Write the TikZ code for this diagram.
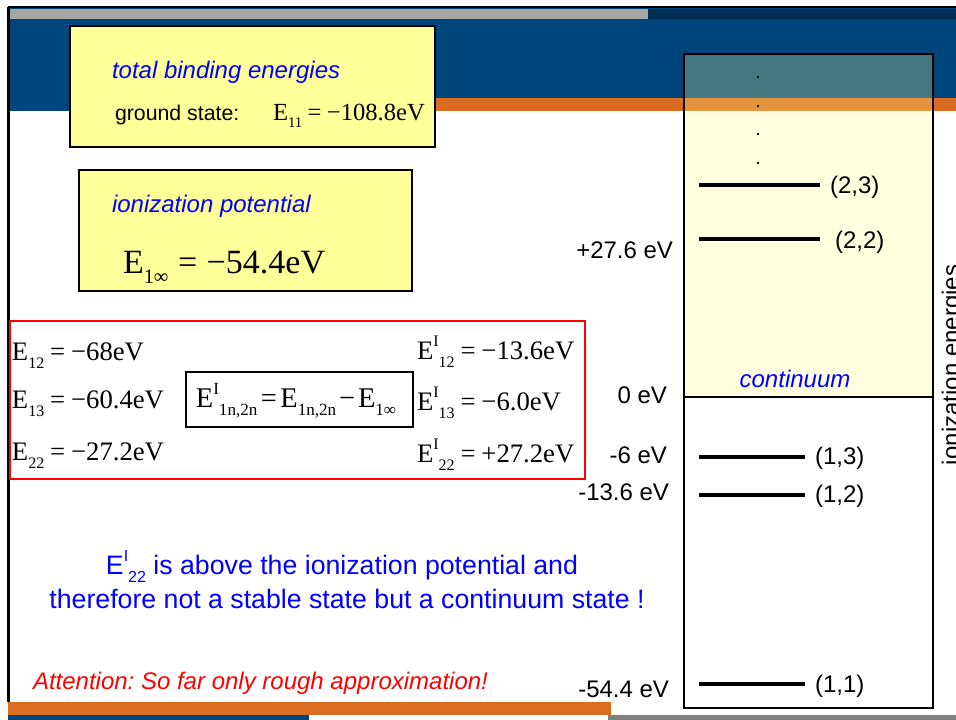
\documentclass[tikz,border=0pt]{standalone}
\usepackage{fontspec}
\setmainfont{Liberation Serif}
\setsansfont{Liberation Sans}
\usepackage{graphicx}
\definecolor{hdrblue}{RGB}{0,69,124}
\definecolor{hdrdark}{RGB}{0,45,86}
\definecolor{hdrgray}{RGB}{166,166,166}
\definecolor{orng}{RGB}{219,109,35}
\definecolor{bgray}{RGB}{128,128,128}
\definecolor{boxyel}{RGB}{255,255,153}
\definecolor{contyel}{RGB}{255,255,140}
\definecolor{txtblue}{RGB}{0,0,255}
\definecolor{txtred}{RGB}{255,0,0}
\newcommand\lo[1]{\raisebox{-0.3em}{\scalebox{0.6}{#1}}}
\newcommand\hi[1]{\raisebox{0.45em}{\scalebox{0.6}{#1}}}
\newcommand\eqs{\kern0.22em=\kern0.22em}
\frenchspacing
\tikzset{
  txt/.style={inner sep=0pt, outer sep=0pt},
  ybox/.style={draw=black, line width=2.5pt, fill=boxyel, inner sep=0pt},
  sanslab/.style={txt, font=\sffamily\fontsize{24}{28}\selectfont},
  serif24/.style={txt, font=\rmfamily\fontsize{24.6}{28}\selectfont},
  serif27/.style={txt, font=\rmfamily\fontsize{26.7}{30}\selectfont},
  bluehead/.style={txt, font=\sffamily\itshape\fontsize{24}{28}\selectfont, text=txtblue},
  lvline/.style={line width=3.4pt},
}
\begin{document}
\begin{tikzpicture}[x=1pt,y=-1pt]
\useasboundingbox (0,0) rectangle (956,720);
\fill[white] (0,0) rectangle (956,720);
% header bands
\fill[hdrblue] (8,8) rectangle (956,111);
\fill[hdrgray] (10,9) rectangle (648,19);
\fill[hdrdark] (648,9) rectangle (956,19);
\fill[orng] (300,98) rectangle (956,111);
\draw[line width=2pt] (8,7) -- (956,7);
\draw[line width=2.5pt] (8.5,7) -- (8.5,702);
% footer bands
\fill[orng] (8,702) rectangle (611,715);
\fill[hdrblue] (8,715) rectangle (309,720);
\fill[bgray] (608,715) rectangle (956,720);

% box 1
\node[ybox, minimum width=365pt, minimum height=121pt] (box1) at (252.5,86.5) {};
\node[bluehead, anchor=base west] (tbe) at (112,78) {total binding energies};
\node[sanslab, font=\sffamily\fontsize{21.3}{25}\selectfont, anchor=base west] (gs) at (115,120) {ground state:};
\node[serif24, anchor=base west] (e11) at (273,120) {E\lo{11}\eqs−108.8eV};

% box 2
\node[ybox, minimum width=333pt, minimum height=121pt] (box2) at (245.5,230.5) {};
\node[bluehead, anchor=base west] (ip) at (112,212) {ionization potential};
\node[txt, font=\rmfamily\fontsize{34}{38}\selectfont, anchor=base west] (einf) at (123,273) {E\lo{1∞}\kern0.28em=\kern0.28em−54.4eV};

% red box
\node[draw=txtred, line width=2.2pt, minimum width=575pt, minimum height=158pt, inner sep=0pt] (redbox) at (297.5,400) {};
\node[serif27, anchor=base west] (e12) at (12,360) {E\lo{12}\eqs−68eV};
\node[serif27, anchor=base west] (e13) at (12,408) {E\lo{13}\eqs−60.4eV};
\node[serif27, anchor=base west] (e22) at (12,460) {E\lo{22}\eqs−27.2eV};
\node[serif27, anchor=base west] (ei12) at (417,359) {E\hi{I}\lo{12}\eqs−13.6eV};
\node[serif27, anchor=base west] (ei13) at (417,410) {E\hi{I}\lo{13}\eqs−6.0eV};
\node[serif27, anchor=base west] (ei22) at (417,462) {E\hi{I}\lo{22}\eqs+27.2eV};
\node[draw=black, line width=2.2pt, fill=white, minimum width=227pt, minimum height=55pt, inner sep=0pt] (midbox) at (299.5,399.5) {};
\node[txt, font=\rmfamily\fontsize{28.5}{32}\selectfont, anchor=base] (formula) at (296,407) {E\hi{I}\lo{1n,2n}\kern0.12em=\kern0.12em E\lo{1n,2n}\kern0.1em−\kern0.1em E\lo{1∞}};

% explanation
\node[txt, font=\sffamily\fontsize{26.7}{30}\selectfont, text=txtblue, anchor=base] (expl1) at (342,574) {E\hi{I}\lo{22} is above the ionization potential and};
\node[txt, font=\sffamily\fontsize{26.7}{30}\selectfont, text=txtblue, anchor=base] (expl2) at (347,608) {therefore not a stable state but a continuum state !};
\node[txt, font=\sffamily\itshape\fontsize{24}{28}\selectfont, text=txtred, anchor=base west] (att) at (33,689) {Attention: So far only rough approximation!};

% right panel
\fill[contyel, opacity=0.27] (684,54) rectangle (933,397);
\node[draw=black, line width=2.7pt, minimum width=249pt, minimum height=654pt, inner sep=0pt] (panel) at (808.5,381) {};
\coordinate (cl) at (684,397);
\coordinate (cr) at (933,397);
\draw[line width=1.2pt] (cl) -- (cr);
\node[bluehead, anchor=base] (cont) at (795,387) {continuum};
\foreach \yy [count=\i] in {77,106,134,163}{
  \node[fill=black, minimum size=2.6pt, inner sep=0pt] (dot\i) at (758,\yy) {};
}
% levels
\coordinate (a23) at (699,185); \coordinate (b23) at (820,185);
\coordinate (a22) at (699,239); \coordinate (b22) at (820,239);
\coordinate (a13) at (699,457); \coordinate (b13) at (805,457);
\coordinate (a12) at (699,495); \coordinate (b12) at (805,495);
\coordinate (a11) at (699,684); \coordinate (b11) at (805,684);
\draw[lvline] (a23) -- (b23);
\draw[lvline] (a22) -- (b22);
\draw[lvline] (a13) -- (b13);
\draw[lvline] (a12) -- (b12);
\draw[lvline] (a11) -- (b11);
\node[sanslab, anchor=base west] (n23) at (830,193) {(2,3)};
\node[sanslab, anchor=base west] (n22) at (835,248) {(2,2)};
\node[sanslab, anchor=base west] (n13) at (815,464) {(1,3)};
\node[sanslab, anchor=base west] (n12) at (815,502) {(1,2)};
\node[sanslab, anchor=base west] (n11) at (815,692) {(1,1)};
% energy scale labels
\node[sanslab, anchor=base east] (v276) at (673,258) {+27.6 eV};
\node[sanslab, anchor=base east] (v0) at (667,403) {0 eV};
\node[sanslab, anchor=base east] (v6) at (667,463) {-6 eV};
\node[sanslab, anchor=base east] (v136) at (669,500) {-13.6 eV};
\node[sanslab, anchor=base east] (v544) at (669,697) {-54.4 eV};
% rotated axis label
\node[sanslab, rotate=90, anchor=base west] (ioen) at (959,465) {ionization energies};
\end{tikzpicture}
\end{document}
